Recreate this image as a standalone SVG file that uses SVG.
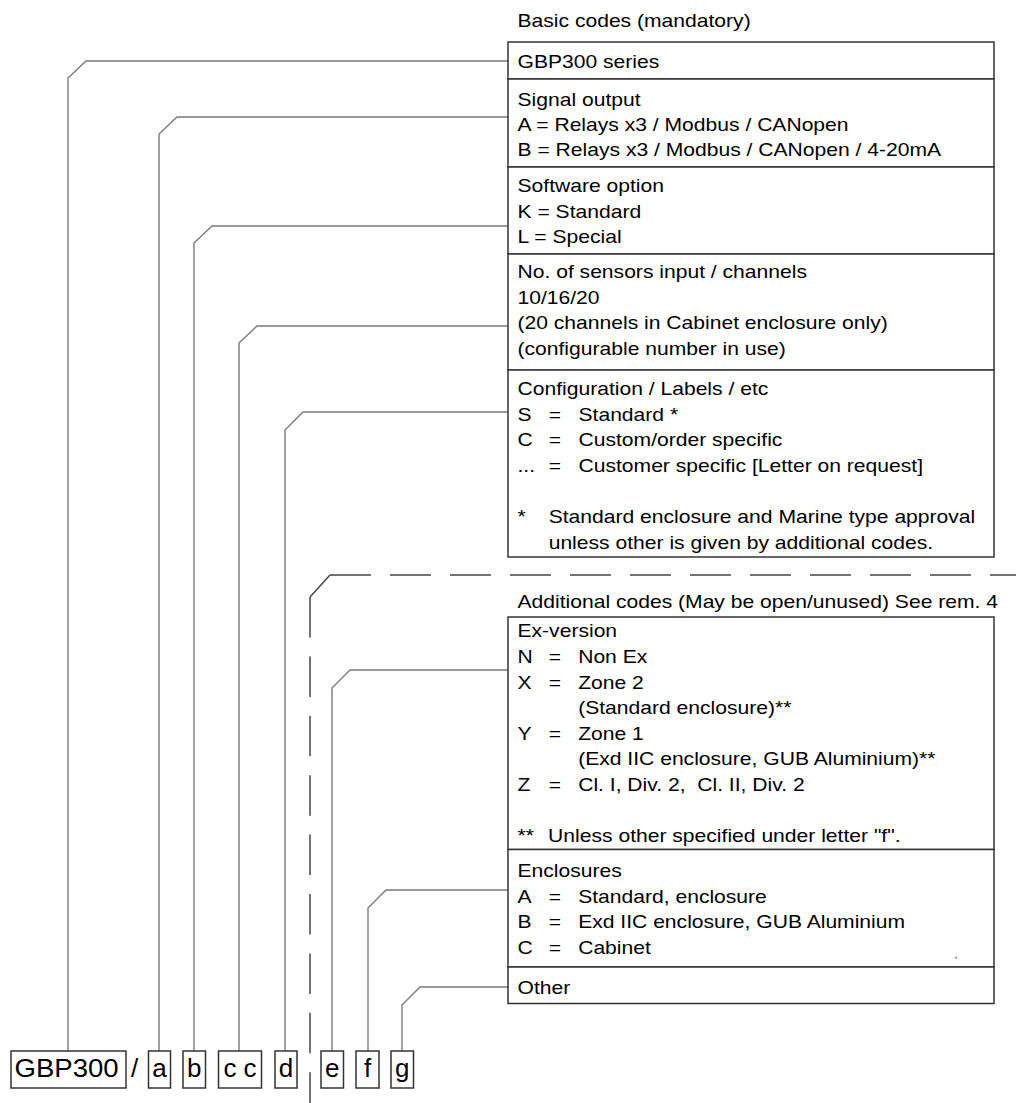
<svg xmlns="http://www.w3.org/2000/svg" width="1016" height="1103" viewBox="0 0 1016 1103">
<style>
.bg{fill:#fff}
.box{fill:#fff;stroke:#333;stroke-width:1.5}
.t{font-family:"Liberation Sans",Arial,sans-serif;font-size:18.6px;fill:#000}
.c{font-family:"Liberation Sans",Arial,sans-serif;font-size:26px;fill:#000}
.m{text-anchor:middle}
.conn{fill:none;stroke:#7a7a7a;stroke-width:1.4}
.dash{fill:none;stroke:#444;stroke-width:1.5}
</style>
<rect class="bg" x="0" y="0" width="1016" height="1103"/>

<g id="connectors">
<path class="conn" d="M68,1051 V78 L86,61 H508"/>
<path class="conn" d="M159,1051 V134 L177,117 H508"/>
<path class="conn" d="M194,1051 V243 L212,226 H508"/>
<path class="conn" d="M239,1051 V343 L257,326 H508"/>
<path class="conn" d="M285,1051 V430 L303,412 H508"/>
<path class="conn" d="M332,1051 V688 L350,670 H508"/>
<path class="conn" d="M368,1051 V908 L386,890 H508"/>
<path class="conn" d="M402,1051 V1005 L420,987 H508"/>
<path class="dash" d="M310,597 L330,575"/>
<path class="dash" d="M330,575 H1016" stroke-dasharray="41 19"/>
<path class="dash" d="M310,597 V1103" stroke-dasharray="40.5 18.9"/>
</g>

<g id="basic-header" transform="translate(517.5 0) scale(1.134 1)">
<text class="t" x="0" y="27">Basic codes (mandatory)</text>
</g>

<g id="node-series">
<rect class="box" x="508" y="42" width="486" height="37"/>
<g transform="translate(517.5 0) scale(1.134 1)">
<text class="t" x="0" y="68">GBP300 series</text>
</g>
</g>

<g id="node-signal">
<rect class="box" x="508" y="79" width="486" height="88"/>
<g transform="translate(517.5 0) scale(1.134 1)">
<text class="t" x="0" y="106">Signal output</text>
<text class="t" x="0" y="131">A = Relays x3 / Modbus / CANopen</text>
<text class="t" x="0" y="156.5">B = Relays x3 / Modbus / CANopen / 4-20mA</text>
</g>
</g>

<g id="node-software">
<rect class="box" x="508" y="167" width="486" height="87"/>
<g transform="translate(517.5 0) scale(1.134 1)">
<text class="t" x="0" y="192">Software option</text>
<text class="t" x="0" y="218">K = Standard</text>
<text class="t" x="0" y="243.5">L = Special</text>
</g>
</g>

<g id="node-sensors">
<rect class="box" x="508" y="254" width="486" height="116"/>
<g transform="translate(517.5 0) scale(1.134 1)">
<text class="t" x="0" y="278.5">No. of sensors input / channels</text>
<text class="t" x="0" y="304">10/16/20</text>
<text class="t" x="0" y="329.5">(20 channels in Cabinet enclosure only)</text>
<text class="t" x="0" y="355">(configurable number in use)</text>
</g>
</g>

<g id="node-config">
<rect class="box" x="508" y="370" width="486" height="187"/>
<g transform="translate(517.5 0) scale(1.134 1)">
<text class="t" x="0" y="395">Configuration / Labels / etc</text>
<text class="t" y="421"><tspan x="0">S</tspan><tspan x="27.5">=</tspan><tspan x="53.8">Standard *</tspan></text>
<text class="t" y="446.5"><tspan x="0">C</tspan><tspan x="27.5">=</tspan><tspan x="53.8">Custom/order specific</tspan></text>
<text class="t" y="472"><tspan x="0">...</tspan><tspan x="27.5">=</tspan><tspan x="53.8">Customer specific [Letter on request]</tspan></text>
<text class="t" y="523"><tspan x="0">*</tspan><tspan x="27.5">Standard enclosure and Marine type approval</tspan></text>
<text class="t" x="27.5" y="549">unless other is given by additional codes.</text>
</g>
</g>

<g id="additional-header" transform="translate(517.5 0) scale(1.134 1)">
<text class="t" x="0" y="608">Additional codes (May be open/unused) See rem. 4</text>
</g>

<g id="node-ex">
<rect class="box" x="508" y="617" width="486" height="232.5"/>
<g transform="translate(517.5 0) scale(1.134 1)">
<text class="t" x="0" y="637.5">Ex-version</text>
<text class="t" y="663"><tspan x="0">N</tspan><tspan x="27.5">=</tspan><tspan x="53.5">Non Ex</tspan></text>
<text class="t" y="689"><tspan x="0">X</tspan><tspan x="27.5">=</tspan><tspan x="53.5">Zone 2</tspan></text>
<text class="t" x="53.5" y="714">(Standard enclosure)**</text>
<text class="t" y="740"><tspan x="0">Y</tspan><tspan x="27.5">=</tspan><tspan x="53.5">Zone 1</tspan></text>
<text class="t" x="53.5" y="765.5">(Exd IIC enclosure, GUB Aluminium)**</text>
<text class="t" y="791" xml:space="preserve"><tspan x="0">Z</tspan><tspan x="27.5">=</tspan><tspan x="53.5">Cl. I, Div. 2,  Cl. II, Div. 2</tspan></text>
<text class="t" y="842"><tspan x="0">**</tspan><tspan x="27">Unless other specified under letter "f".</tspan></text>
</g>
</g>

<g id="node-enclosures">
<rect class="box" x="508" y="849.5" width="486" height="117.5"/>
<g transform="translate(517.5 0) scale(1.134 1)">
<text class="t" x="0" y="877">Enclosures</text>
<text class="t" y="903"><tspan x="0">A</tspan><tspan x="27.5">=</tspan><tspan x="53.5">Standard, enclosure</tspan></text>
<text class="t" y="928.5"><tspan x="0">B</tspan><tspan x="27.5">=</tspan><tspan x="53.5">Exd IIC enclosure, GUB Aluminium</tspan></text>
<text class="t" y="954"><tspan x="0">C</tspan><tspan x="27.5">=</tspan><tspan x="53.5">Cabinet</tspan></text>
</g>
<rect x="955.5" y="957" width="1.5" height="1.5" fill="#666"/>
</g>

<g id="node-other">
<rect class="box" x="508" y="967" width="486" height="36.5"/>
<g transform="translate(517.5 0) scale(1.134 1)">
<text class="t" x="0" y="994">Other</text>
</g>
</g>

<g id="code-gbp300">
<rect class="box" x="11" y="1051" width="115" height="37"/>
<g transform="translate(14.5 0) scale(1.06 1)">
<text class="c" x="0" y="1077">GBP300</text>
</g>
</g>
<g id="code-slash"><text class="c" x="131" y="1077">/</text></g>
<g id="code-a"><rect class="box" x="148.5" y="1051" width="22" height="37"/><text class="c m" x="159.5" y="1077">a</text></g>
<g id="code-b"><rect class="box" x="183" y="1051" width="22.5" height="37"/><text class="c m" x="194.3" y="1077">b</text></g>
<g id="code-c"><rect class="box" x="218.5" y="1051" width="43" height="37"/><text class="c m" x="240" y="1077">c c</text></g>
<g id="code-d"><rect class="box" x="275" y="1051" width="22" height="37"/><text class="c m" x="286" y="1077">d</text></g>
<g id="code-e"><rect class="box" x="321" y="1051" width="22.5" height="37"/><text class="c m" x="332.3" y="1077">e</text></g>
<g id="code-f"><rect class="box" x="356" y="1051" width="23" height="37"/><text class="c m" x="367.5" y="1077">f</text></g>
<g id="code-g"><rect class="box" x="391" y="1051" width="22.5" height="37"/><text class="c m" x="402.3" y="1077">g</text></g>
</svg>
